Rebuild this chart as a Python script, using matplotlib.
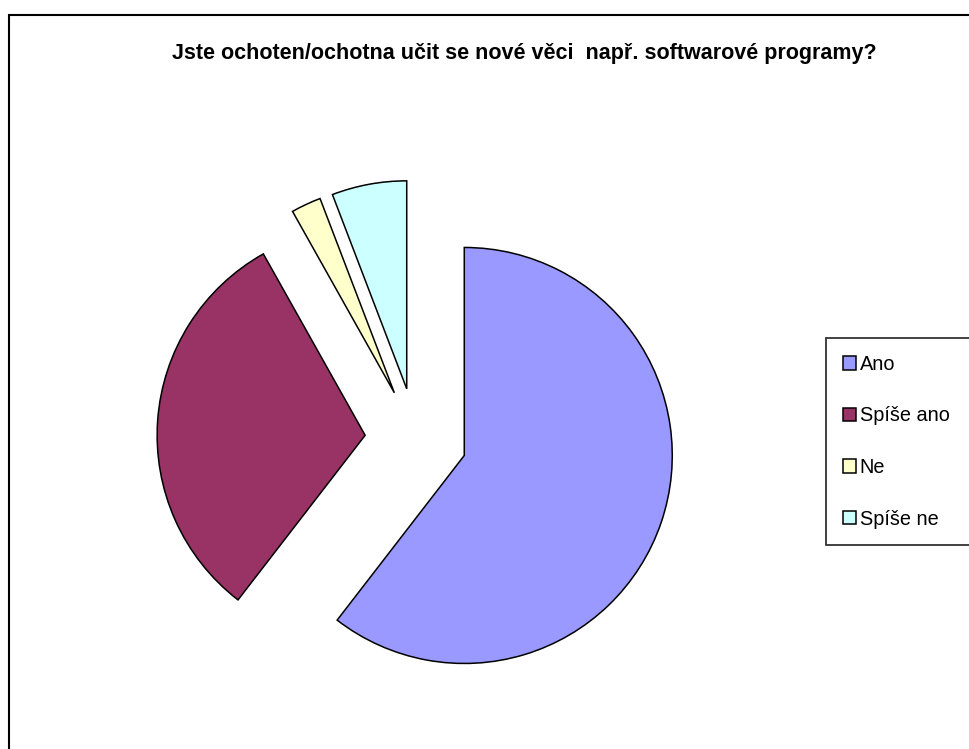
import matplotlib
matplotlib.use("Agg")
import matplotlib.pyplot as plt
from matplotlib.patches import Rectangle

plt.rcParams['font.family'] = ['Liberation Sans', 'DejaVu Sans']

# odpovedi a pocty
labels = ["Ano", "Spíše ano", "Ne", "Spíše ne"]
counts = [52, 27, 2, 5]
colors = ["#9999FF", "#993366", "#FFFFCC", "#CCFFFF"]
title = "Jste ochoten/ochotna učit se nové věci  např. softwarové programy?"

W, H = 969, 749
fig = plt.figure(figsize=(W / 100, H / 100), dpi=100)
ax = fig.add_axes([0, 0, 1, 1])

wedges, _ = ax.pie(counts, colors=colors, startangle=90, counterclock=False,
                   center=(416, H - 439), radius=208, explode=[51] * len(counts),
                   wedgeprops=dict(edgecolor="black", linewidth=1.1))
ax.set_xlim(0, W)
ax.set_ylim(0, H)
ax.set_aspect("equal")
ax.axis("off")

# vnejsi ramecek grafu
ax.add_patch(Rectangle((9, -20), W + 40, H - 15 + 20, fill=False,
                       edgecolor="black", linewidth=1.5, clip_on=False))

fig.text(524 / W, 1 - 54 / H, title, ha="center", va="center",
         fontsize=15.5, fontweight="bold")

leg = ax.legend(wedges, labels, loc="upper left",
                bbox_to_anchor=(826 / W, 1 - 338 / H, 200 / W, 0.0),
                mode="expand", frameon=True, fancybox=False, fontsize=14.3,
                handlelength=0.65, handleheight=0.65, handletextpad=0.2,
                labelspacing=1.64, borderpad=0.85, borderaxespad=0)
leg.get_frame().set_edgecolor("black")
leg.get_frame().set_linewidth(1.3)

fig.savefig("out.png", dpi=100)
